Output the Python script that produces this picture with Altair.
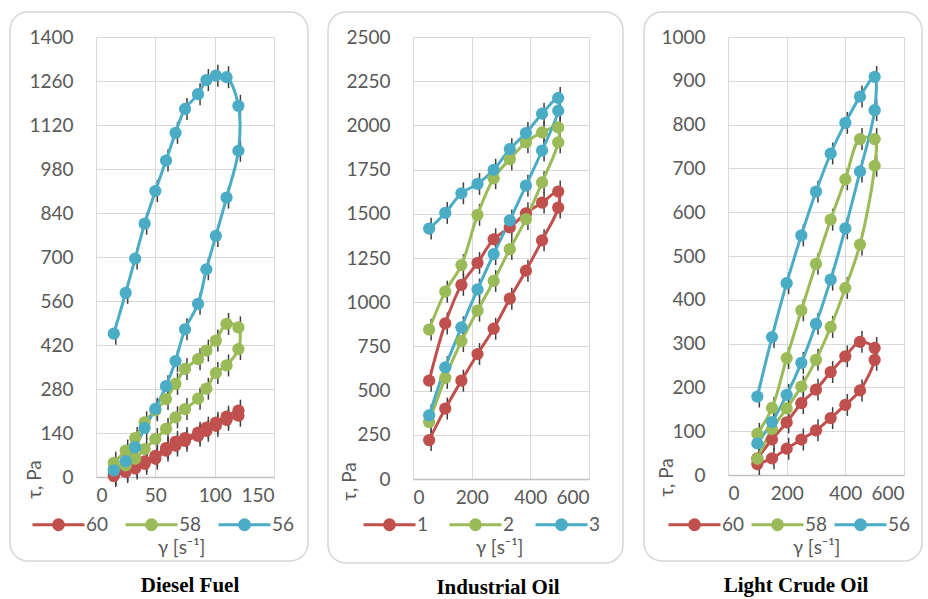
import altair as alt
import pandas as pd

# ---------------- data ----------------
# Diesel Fuel: shear rate path (loading up, then unloading back down)
diesel_rate = [15, 25, 33, 41, 50, 59, 67, 75, 86, 93, 101, 110, 120]
diesel_60_up = [8, 22, 34, 50, 67, 92, 112, 124, 141, 157, 173, 192, 211]
diesel_60_down = [195, 182, 163, 147, 131, 115, 100, 84, 58, 42, 27, 16, 3]
diesel_58_up = [45, 84, 124, 174, 212, 248, 296, 344, 375, 402, 434, 487, 476]
diesel_58_down = [407, 355, 331, 281, 249, 216, 190, 153, 121, 89, 58, 37, 27]
diesel_56_up = [456, 586, 695, 806, 910, 1007, 1095, 1171, 1218, 1263, 1277, 1272, 1181]
diesel_56_down = [1038, 889, 767, 661, 551, 470, 369, 289, 217, 156, 95, 50, 21]
diesel_err = 35

# Industrial Oil
ind_rate = [55, 110, 165, 220, 275, 330, 385, 440, 495]
ind_1_up = [556, 880, 1098, 1222, 1356, 1423, 1503, 1563, 1626]
ind_1_down = [1535, 1350, 1178, 1020, 850, 707, 556, 398, 220]
ind_2_up = [845, 1060, 1210, 1494, 1701, 1809, 1904, 1960, 1989]
ind_2_down = [1904, 1678, 1470, 1300, 1120, 952, 780, 572, 322]
ind_3_up = [1416, 1505, 1616, 1669, 1749, 1866, 1957, 2066, 2155]
ind_3_down = [2083, 1858, 1659, 1463, 1272, 1072, 858, 632, 360]
ind_err = 62

# Light Crude Oil
lco_rate = [100, 150, 200, 250, 300, 350, 400, 450, 500]
lco_60_up = [38, 81, 120, 164, 195, 235, 271, 304, 290]
lco_60_down = [263, 193, 160, 130, 102, 81, 60, 38, 25]
lco_58_up = [94, 153, 267, 376, 482, 583, 675, 767, 767]
lco_58_down = [706, 526, 427, 338, 263, 202, 152, 105, 37]
lco_56_up = [179, 315, 438, 547, 647, 734, 804, 864, 909]
lco_56_down = [833, 693, 563, 446, 345, 256, 183, 121, 72]
lco_err = 25

temp_names = ["60", "58", "56"]
ind_names = ["1", "2", "3"]
colors = ["#C0504D", "#9BBB59", "#4BACC6"]


def make_df(rates, names, ups, downs):
    rows = []
    path = rates + rates[::-1]
    for name, up, down in zip(names, ups, downs):
        for i, (x, t) in enumerate(zip(path, up + down)):
            rows.append({"series": name, "rate": x, "tau": t, "i": i})
    return pd.DataFrame(rows)


df_diesel = make_df(diesel_rate, temp_names,
                    [diesel_60_up, diesel_58_up, diesel_56_up],
                    [diesel_60_down, diesel_58_down, diesel_56_down])
df_ind = make_df(ind_rate, ind_names,
                 [ind_1_up, ind_2_up, ind_3_up],
                 [ind_1_down, ind_2_down, ind_3_down])
df_lco = make_df(lco_rate, temp_names,
                 [lco_60_up, lco_58_up, lco_56_up],
                 [lco_60_down, lco_58_down, lco_56_down])


def ring(r):
    return f"M{r},0A{r},{r},0,1,1,-{r},0A{r},{r},0,1,1,{r},0"


# legend symbol: line with a solid dot (dot drawn as concentric strokes)
SYM = "M-1,0L1,0" + ring(0.19) + ring(0.1) + ring(0.02)

FONT = "Lato"
GREY = "#595959"


def panel(df, names, w, h, ymax, ystep, xmax, xstep, err, cfg, title):
    xscale = alt.Scale(domain=[0, xmax], nice=False)
    yscale = alt.Scale(domain=[0, ymax], nice=False)
    cscale = alt.Scale(domain=names, range=colors)
    xaxis = alt.Axis(values=list(range(0, xmax + 1, xstep)), title="γ [s⁻¹]",
                     format="d",
                     titleX=cfg["xtx"], titleY=cfg["xty"], titleAlign="center",
                     titleBaseline="middle")
    yaxis = alt.Axis(values=list(range(0, ymax + 1, ystep)), title="τ, Pa",
                     format="d",
                     titleX=cfg["ytx"], titleY=h + 2, titleAngle=270,
                     titleAlign="center", titleBaseline="middle")
    legend = alt.Legend(orient="none", legendX=cfg["lx"], legendY=460,
                        direction="horizontal", columns=3, title=None,
                        symbolType=SYM, symbolSize=2704, symbolStrokeWidth=3,
                        symbolFillColor="transparent", symbolOffset=3,
                        labelOffset=0, columnPadding=cfg["cp"], padding=0,
                        labelFont=FONT, labelFontSize=19, labelColor=GREY)
    frame = alt.Chart(pd.DataFrame({"k": [0]})).mark_rect(
        fill="transparent", stroke="#d6d6d6", strokeWidth=1.5, cornerRadius=18
    ).encode(x=alt.value(cfg["fx"][0]), x2=alt.value(cfg["fx"][1]),
             y=alt.value(-25), y2=alt.value(cfg["fy"]))
    base = alt.Chart(df)
    X = alt.X("rate:Q", scale=xscale, axis=xaxis, title="γ [s⁻¹]")
    Y = alt.Y("tau:Q", scale=yscale, axis=yaxis, title="τ, Pa")
    errs = base.transform_calculate(
        lo=f"datum.tau - {err}", hi=f"datum.tau + {err}"
    ).mark_rule(color="#3f3f3f", strokeWidth=1.5, xOffset=2).encode(
        x=X,
        y=alt.Y("lo:Q", scale=yscale, axis=yaxis, title="τ, Pa"),
        y2="hi:Q")
    line = base.mark_line(strokeWidth=3, interpolate="catmull-rom").encode(
        x=X, y=Y,
        color=alt.Color("series:N", scale=cscale, legend=legend),
        order=alt.Order("i:Q"))
    pts = base.mark_circle(size=150, opacity=1).encode(
        x=X, y=Y,
        color=alt.Color("series:N", scale=cscale, legend=legend))
    return alt.layer(frame, errs, line, pts).properties(
        width=w, height=h,
        title=alt.TitleParams(text=title, orient="bottom", anchor="middle",
                              frame="group", offset=13, dx=cfg["tdx"],
                              font="Liberation Serif", fontSize=21,
                              fontWeight="bold", color="black"))


p1 = panel(df_diesel, temp_names, 178, 440, 1400, 140, 150, 50, diesel_err,
           {"xtx": 85, "xty": 70, "ytx": -62, "lx": -68, "cp": 10,
            "fx": (-86, 212), "fy": 524, "tdx": 5}, "Diesel Fuel")
p2 = panel(df_ind, ind_names, 176, 442, 2500, 250, 600, 200, ind_err,
           {"xtx": 86, "xty": 68, "ytx": -64, "lx": -54, "cp": 14,
            "fx": (-85, 210), "fy": 526, "tdx": -3}, "Industrial Oil")
p3 = panel(df_lco, temp_names, 176, 438, 1000, 100, 600, 200, lco_err,
           {"xtx": 88, "xty": 72, "ytx": -62, "lx": -64, "cp": 0,
            "fx": (-84, 194), "fy": 524, "tdx": -20}, "Light Crude Oil")

chart = alt.hconcat(p1, p2, p3, spacing=139, bounds="flush").resolve_scale(
    color="independent", x="independent", y="independent"
).resolve_legend(color="independent").properties(
    padding={"left": 8, "top": 10, "right": 2, "bottom": 0}
).configure_view(stroke="transparent").configure_axis(
    labelFont=FONT, labelFontSize=19, labelColor=GREY,
    titleFont=FONT, titleFontSize=19, titleColor=GREY, titleFontWeight="normal",
    gridColor="#d9d9d9", gridWidth=1, ticks=False, tickSize=0
).configure_axisX(labelPadding=9, domainColor="#bfbfbf", domainWidth=1.5
).configure_axisY(labelPadding=23, domain=False)

chart.save("out.html", embed_options={"renderer": "svg", "actions": False})
